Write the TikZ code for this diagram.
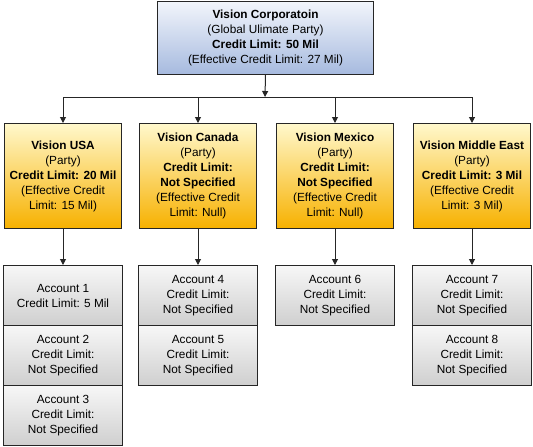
\documentclass[tikz,border=0pt]{standalone}
\usepackage{fontspec}
\setmainfont{Liberation Sans}
\usetikzlibrary{arrows.meta}
\definecolor{edge}{HTML}{262626}
\definecolor{bluetop}{HTML}{F2F5FB}
\definecolor{bluebot}{HTML}{A6BADF}
\definecolor{yeltop}{HTML}{FFF8CC}
\definecolor{yelbot}{HTML}{F7B100}
\definecolor{graytop}{HTML}{F7F7F7}
\definecolor{graybot}{HTML}{CFCFCF}
\tikzset{
  box/.style={draw=edge, line width=1pt, inner sep=1pt, align=center,
    font=\fontsize{11.8}{15}\selectfont, anchor=north west},
  topbox/.style={box, top color=bluetop, bottom color=bluebot, minimum width=216pt, minimum height=73pt},
  partybox/.style={box, top color=yeltop, bottom color=yelbot, minimum width=117pt, minimum height=105pt},
  accbox/.style={box, top color=graytop, bottom color=graybot, minimum width=119pt, minimum height=60pt},
  arr/.style={draw=edge, line width=1pt, -{Triangle[length=6pt,width=6pt]}},
}
\begin{document}
\begin{tikzpicture}[x=1pt,y=-1pt]
\useasboundingbox (0,0) rectangle (533,447);
\node[topbox] (vc) at (157,1) {\textbf{Vision Corporatoin}\\(Global Ulimate Party)\\\textbf{Credit Limit: 50 Mil}\\(Effective Credit Limit: 27 Mil)};
\coordinate (hub) at (265,97);
\node[partybox] (usa) at (4,123) {\textbf{Vision USA}\\(Party)\\\textbf{Credit Limit: 20 Mil}\\(Effective Credit\\Limit: 15 Mil)};
\node[partybox] (can) at (139,123) {\textbf{Vision Canada}\\(Party)\\\textbf{Credit Limit:}\\\textbf{Not Specified}\\(Effective Credit\\Limit: Null)};
\node[partybox] (mex) at (276,123) {\textbf{Vision Mexico}\\(Party)\\\textbf{Credit Limit:}\\\textbf{Not Specified}\\(Effective Credit\\Limit: Null)};
\node[partybox] (me) at (413,123) {\textbf{Vision Middle East}\\(Party)\\\textbf{Credit Limit: 3 Mil}\\(Effective Credit\\Limit: 3 Mil)};
\node[accbox] (a1) at (3,265) {Account 1\\Credit Limit: 5 Mil};
\node[accbox] (a2) at (3,325) {Account 2\\Credit Limit:\\Not Specified};
\node[accbox] (a3) at (3,385) {Account 3\\Credit Limit:\\Not Specified};
\node[accbox] (a4) at (138,265) {Account 4\\Credit Limit:\\Not Specified};
\node[accbox] (a5) at (138,325) {Account 5\\Credit Limit:\\Not Specified};
\node[accbox] (a6) at (275,265) {Account 6\\Credit Limit:\\Not Specified};
\node[accbox] (a7) at (412,265) {Account 7\\Credit Limit:\\Not Specified};
\node[accbox] (a8) at (412,325) {Account 8\\Credit Limit:\\Not Specified};
\draw[arr] (vc.south) -- (hub);
\draw[arr] (hub) -| (usa.north);
\draw[arr] (hub) -| (can.north);
\draw[arr] (hub) -| (mex.north);
\draw[arr] (hub) -| (me.north);
\draw[arr] (usa.south) -- (a1.north);
\draw[arr] (can.south) -- (a4.north);
\draw[arr] (mex.south) -- (a6.north);
\draw[arr] (me.south) -- (a7.north);
\end{tikzpicture}
\end{document}
